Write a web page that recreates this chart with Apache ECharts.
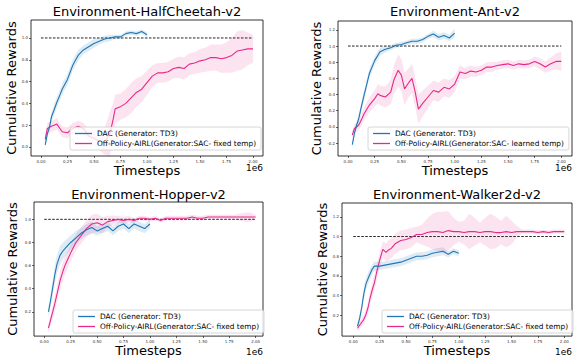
<!DOCTYPE html>
<html>
<head>
<meta charset="utf-8">
<script src="https://cdn.jsdelivr.net/npm/echarts@6/dist/echarts.min.js"></script>
<style>
  html, body { margin: 0; padding: 0; background: #fff; }
  #chart { width: 575px; height: 358px; }
</style>
</head>
<body>
<div id="chart"></div>
<script>
var FONT = 'DejaVu Sans';
var BLUE = '#1f77b4';
var PINK = '#e7298a';

var DAC_NAME = 'DAC (Generator: TD3)';
var AIRL_FIXED = 'Off-Policy-AIRL(Generator:SAC- fixed temp)';
var AIRL_LEARNED = 'Off-Policy-AIRL(Generator:SAC- learned temp)';

var titles = ['Environment-HalfCheetah-v2', 'Environment-Ant-v2', 'Environment-Hopper-v2', 'Environment-Walker2d-v2'];

// tick values (x in units of 1e6 timesteps)
var xTicks = [0, 0.25, 0.5, 0.75, 1.0, 1.25, 1.5, 1.75, 2.0];
var yTicksCheetah = [0, 0.2, 0.4, 0.6, 0.8, 1.0];
var yTicksAnt = [-0.2, 0, 0.2, 0.4, 0.6, 0.8, 1.0, 1.2];
var yTicksHopper = [0.2, 0.4, 0.6, 0.8, 1.0];
var yTicksWalker = [0.2, 0.4, 0.6, 0.8, 1.0, 1.2];

// DAC runs stop at 1e6 steps
var dacSteps = [0.04, 0.06, 0.08, 0.10, 0.12, 0.15, 0.18, 0.20, 0.25, 0.30, 0.35, 0.40,
                0.45, 0.50, 0.55, 0.60, 0.65, 0.70, 0.75, 0.80, 0.85, 0.90, 0.95, 1.00];

// ---- HalfCheetah ----
var cheetahDac = [0.02, 0.12, 0.18, 0.28, 0.33, 0.41, 0.48, 0.53, 0.62, 0.75, 0.84, 0.89,
                  0.92, 0.95, 0.97, 0.99, 1.00, 1.01, 1.01, 1.04, 1.05, 1.04, 1.06, 1.03];
var cheetahDacSd = [0.03, 0.03, 0.04, 0.04, 0.05, 0.05, 0.05, 0.05, 0.05, 0.05, 0.05, 0.04,
                    0.04, 0.04, 0.03, 0.03, 0.03, 0.02, 0.02, 0.02, 0.02, 0.02, 0.02, 0.02];
var cheetahAirlSteps = [0.04, 0.06, 0.10, 0.15, 0.20, 0.25, 0.30, 0.35, 0.40, 0.45, 0.50, 0.55, 0.60, 0.65, 0.68, 0.70,
                        0.75, 0.80, 0.85, 0.90, 0.95, 1.00, 1.05, 1.10, 1.15, 1.20, 1.25, 1.30, 1.35,
                        1.40, 1.45, 1.50, 1.55, 1.60, 1.65, 1.70, 1.75, 1.80, 1.85, 1.90, 1.95, 2.00];
var cheetahAirl = [0.07, 0.17, 0.19, 0.21, 0.14, 0.13, 0.17, 0.19, 0.17, 0.10, 0.08, 0.05, 0.05, 0.12, 0.25, 0.35,
                   0.37, 0.40, 0.45, 0.50, 0.53, 0.59, 0.65, 0.68, 0.68, 0.69, 0.72, 0.73, 0.72,
                   0.76, 0.77, 0.79, 0.80, 0.82, 0.82, 0.81, 0.82, 0.84, 0.88, 0.89, 0.90, 0.90];
var cheetahAirlSd = [0.04, 0.05, 0.05, 0.05, 0.05, 0.05, 0.05, 0.05, 0.05, 0.06, 0.07, 0.08, 0.12, 0.20, 0.15, 0.13,
                     0.12, 0.13, 0.14, 0.13, 0.12, 0.11, 0.10, 0.09, 0.09, 0.09, 0.09, 0.10, 0.10,
                     0.10, 0.10, 0.11, 0.11, 0.12, 0.12, 0.13, 0.14, 0.16, 0.18, 0.18, 0.15, 0.13];

// ---- Ant ----
var antDac = [-0.22, -0.08, 0.02, 0.10, 0.22, 0.39, 0.55, 0.66, 0.82, 0.93, 0.96, 0.98,
              1.01, 1.02, 1.04, 1.06, 1.06, 1.08, 1.12, 1.15, 1.11, 1.13, 1.10, 1.16];
var antDacSd = [0.04, 0.05, 0.05, 0.06, 0.06, 0.06, 0.06, 0.06, 0.05, 0.05, 0.04, 0.03,
                0.03, 0.03, 0.03, 0.03, 0.03, 0.03, 0.03, 0.04, 0.04, 0.04, 0.04, 0.05];
var antAirlSteps = [0.04, 0.06, 0.10, 0.13, 0.15, 0.20, 0.25, 0.28, 0.30, 0.35, 0.40, 0.43, 0.47, 0.50, 0.53, 0.57, 0.60, 0.63, 0.66, 0.70,
                    0.75, 0.80, 0.85, 0.90, 0.95, 1.00, 1.05, 1.10, 1.15, 1.20, 1.25, 1.30, 1.35,
                    1.40, 1.45, 1.50, 1.55, 1.60, 1.65, 1.70, 1.75, 1.80, 1.85, 1.90, 1.95, 2.00];
var antAirl = [-0.10, -0.02, 0.02, 0.10, 0.16, 0.27, 0.35, 0.41, 0.39, 0.37, 0.43, 0.58, 0.70, 0.64, 0.47, 0.55, 0.60, 0.43, 0.22, 0.29,
               0.37, 0.45, 0.43, 0.49, 0.47, 0.53, 0.68, 0.66, 0.69, 0.68, 0.70, 0.74, 0.74,
               0.76, 0.77, 0.78, 0.76, 0.78, 0.77, 0.78, 0.81, 0.78, 0.74, 0.78, 0.81, 0.81];
var antAirlSd = [0.04, 0.05, 0.06, 0.07, 0.08, 0.09, 0.10, 0.12, 0.12, 0.13, 0.15, 0.18, 0.20, 0.20, 0.20, 0.18, 0.18, 0.18, 0.18, 0.16,
                 0.14, 0.12, 0.12, 0.11, 0.11, 0.10, 0.08, 0.07, 0.07, 0.06, 0.06, 0.06, 0.06,
                 0.05, 0.05, 0.05, 0.05, 0.05, 0.05, 0.05, 0.06, 0.07, 0.07, 0.08, 0.10, 0.12];

// ---- Hopper ----
var hopperDac = [0.20, 0.30, 0.41, 0.52, 0.61, 0.69, 0.73, 0.75, 0.80, 0.84, 0.88, 0.91,
                 0.93, 0.90, 0.92, 0.94, 0.90, 0.94, 0.96, 0.92, 0.96, 0.94, 0.92, 0.96];
var hopperDacSd = [0.05, 0.06, 0.07, 0.08, 0.08, 0.08, 0.07, 0.07, 0.06, 0.06, 0.05, 0.05,
                   0.05, 0.04, 0.04, 0.04, 0.04, 0.04, 0.04, 0.04, 0.04, 0.04, 0.04, 0.04];
var hopperAirlSteps = [0.04, 0.06, 0.08, 0.10, 0.12, 0.15, 0.18, 0.20, 0.25, 0.30, 0.35, 0.40,
                       0.45, 0.50, 0.55, 0.60, 0.65, 0.70, 0.75, 0.80, 0.85, 0.90, 0.95, 1.00,
                       1.05, 1.10, 1.15, 1.20, 1.25, 1.30, 1.35, 1.40, 1.45, 1.50,
                       1.55, 1.60, 1.65, 1.70, 1.75, 1.80, 1.85, 1.90, 1.95, 2.00];
var hopperAirl = [0.06, 0.13, 0.20, 0.27, 0.35, 0.47, 0.56, 0.61, 0.71, 0.80, 0.86, 0.92,
                  0.96, 0.97, 0.95, 0.98, 0.99, 1.00, 0.99, 1.00, 0.99, 1.01, 1.01, 1.00,
                  1.01, 0.99, 1.01, 1.01, 1.01, 1.01, 1.01, 1.02, 1.01, 1.01,
                  1.02, 1.02, 1.02, 1.02, 1.02, 1.02, 1.02, 1.02, 1.02, 1.02];
var hopperAirlSd = [0.04, 0.05, 0.06, 0.07, 0.07, 0.08, 0.08, 0.08, 0.07, 0.07, 0.07, 0.07,
                    0.08, 0.08, 0.07, 0.05, 0.04, 0.03, 0.03, 0.03, 0.02, 0.02, 0.02, 0.02,
                    0.02, 0.02, 0.02, 0.02, 0.02, 0.02, 0.02, 0.02, 0.02, 0.02,
                    0.02, 0.02, 0.02, 0.02, 0.02, 0.02, 0.03, 0.04, 0.04, 0.02];

// ---- Walker2d ----
var walkerDac = [0.09, 0.17, 0.28, 0.42, 0.52, 0.60, 0.67, 0.70, 0.70, 0.71, 0.72, 0.73,
                 0.74, 0.76, 0.78, 0.80, 0.80, 0.81, 0.83, 0.84, 0.85, 0.82, 0.85, 0.83];
var walkerDacSd = [0.03, 0.04, 0.05, 0.06, 0.06, 0.06, 0.05, 0.05, 0.04, 0.04, 0.04, 0.04,
                   0.04, 0.04, 0.04, 0.04, 0.04, 0.04, 0.04, 0.04, 0.04, 0.03, 0.03, 0.03];
var walkerAirlSteps = [0.04, 0.06, 0.08, 0.10, 0.12, 0.14, 0.16, 0.18, 0.20, 0.22, 0.25, 0.28, 0.31, 0.33, 0.36, 0.40,
                       0.45, 0.50, 0.55, 0.60, 0.65, 0.70, 0.75, 0.80, 0.85, 0.90, 0.95, 1.00,
                       1.05, 1.10, 1.15, 1.20, 1.25, 1.30, 1.35, 1.40, 1.45, 1.50,
                       1.55, 1.60, 1.65, 1.70, 1.75, 1.80, 1.85, 1.90, 1.95, 2.00];
var walkerAirl = [0.07, 0.10, 0.13, 0.16, 0.21, 0.28, 0.38, 0.46, 0.53, 0.63, 0.76, 0.87, 0.84, 0.86, 0.88, 0.93,
                  0.96, 0.97, 0.99, 1.02, 1.02, 1.04, 1.05, 1.05, 1.04, 1.06, 1.05, 1.05,
                  1.04, 1.05, 1.05, 1.04, 1.05, 1.05, 1.04, 1.04, 1.05, 1.04,
                  1.05, 1.05, 1.05, 1.05, 1.04, 1.05, 1.04, 1.05, 1.05, 1.05];
var walkerAirlSd = [0.03, 0.04, 0.04, 0.05, 0.05, 0.06, 0.07, 0.07, 0.08, 0.08, 0.08, 0.08, 0.09, 0.10, 0.10, 0.10,
                    0.10, 0.10, 0.10, 0.08, 0.10, 0.14, 0.18, 0.20, 0.21, 0.20, 0.14, 0.10,
                    0.12, 0.18, 0.14, 0.10, 0.14, 0.18, 0.16, 0.12, 0.16, 0.12,
                    0.06, 0.02, 0.02, 0.02, 0.02, 0.02, 0.02, 0.02, 0.02, 0.02];

// layout of the four panels (pixels)
var panels = [
  { title: titles[0], box: [31, 20, 232, 136], xRange: [-0.094, 2.094], yRange: [-0.083, 1.165], yTicks: yTicksCheetah,
    dac: [dacSteps, cheetahDac, cheetahDacSd], airl: [cheetahAirlSteps, cheetahAirl, cheetahAirlSd], airlName: AIRL_FIXED,
    legend: [70, 127], yGap: 12, xGap: 7, titleTop: 5 },
  { title: titles[1], box: [338, 21, 234, 135], xRange: [-0.094, 2.10], yRange: [-0.36, 1.31], yTicks: yTicksAnt,
    dac: [dacSteps, antDac, antDacSd], airl: [antAirlSteps, antAirl, antAirlSd], airlName: AIRL_LEARNED,
    legend: [368, 127], yGap: 14, xGap: 7, titleTop: 5 },
  { title: titles[2], box: [34, 202, 229, 138], xRange: [-0.097, 2.07], yRange: [-0.01, 1.15], yTicks: yTicksHopper,
    dac: [dacSteps, hopperDac, hopperDacSd], airl: [hopperAirlSteps, hopperAirl, hopperAirlSd], airlName: AIRL_FIXED,
    legend: [73, 310], yGap: 15, xGap: 5, titleTop: 188 },
  { title: titles[3], box: [342, 203, 230, 137], xRange: [-0.107, 2.073], yRange: [-0.01, 1.34], yTicks: yTicksWalker,
    dac: [dacSteps, walkerDac, walkerDacSd], airl: [walkerAirlSteps, walkerAirl, walkerAirlSd], airlName: AIRL_FIXED,
    legend: [382, 310], yGap: 11, xGap: 5, titleTop: 188 }
];

function pairs(xs, ys) {
  return xs.map(function (x, k) { return [x, ys[k]]; });
}

// shaded spread drawn as one polygon, points placed with api.coord
function bandSeries(i, xs, ys, sd, color, key) {
  return {
    name: 'band' + i + key, type: 'custom', xAxisIndex: i, yAxisIndex: i, silent: true, z: 1,
    clip: true,
    data: pairs(xs, ys),
    renderItem: function (params, api) {
      if (params.dataIndex !== 0) return null;
      var pts = [];
      for (var k = 0; k < xs.length; k++) pts.push(api.coord([xs[k], ys[k] + sd[k]]));
      for (var m = xs.length - 1; m >= 0; m--) pts.push(api.coord([xs[m], ys[m] - sd[m]]));
      return { type: 'polygon', shape: { points: pts }, style: { fill: color, stroke: null } };
    }
  };
}

var option = {
  animation: false,
  textStyle: { fontFamily: FONT },
  title: [], grid: [], xAxis: [], yAxis: [], legend: [], series: []
};

panels.forEach(function (p, i) {
  var b = p.box;
  option.grid.push({ left: b[0], top: b[1], width: b[2], height: b[3], show: true,
                     borderColor: '#000', borderWidth: 0.8, backgroundColor: 'transparent' });
  option.title.push({ text: p.title, left: b[0] + b[2] / 2, top: p.titleTop, textAlign: 'center', padding: 0,
                      textStyle: { fontFamily: FONT, fontSize: 13, fontWeight: 'normal', color: '#000' } });
  option.title.push({ text: '1e6', left: b[0] + b[2], top: b[1] + b[3] + 7, textAlign: 'right', padding: 0,
                      textStyle: { fontFamily: FONT, fontSize: 9, fontWeight: 'normal', color: '#000' } });
  option.xAxis.push({
    type: 'value', gridIndex: i, min: p.xRange[0], max: p.xRange[1],
    name: 'Timesteps', nameLocation: 'middle', nameGap: p.xGap,
    nameTextStyle: { fontFamily: FONT, fontSize: 13, color: '#000' },
    axisLine: { show: false, onZero: false },
    axisTick: { show: true, length: 2, customValues: xTicks, lineStyle: { color: '#000', width: 0.6 } },
    axisLabel: { customValues: xTicks, fontSize: 4, color: '#333', margin: 3,
                 formatter: function (v) { return v.toFixed(2); } },
    splitLine: { show: false }
  });
  option.yAxis.push({
    type: 'value', gridIndex: i, min: p.yRange[0], max: p.yRange[1],
    name: 'Cumulative Rewards', nameLocation: 'middle', nameGap: p.yGap,
    nameTextStyle: { fontFamily: FONT, fontSize: 13, color: '#000' },
    axisLine: { show: false, onZero: false },
    axisTick: { show: true, length: 2, customValues: p.yTicks, lineStyle: { color: '#000', width: 0.6 } },
    axisLabel: { customValues: p.yTicks, fontSize: 4, color: '#333', margin: 3,
                 formatter: function (v) { return v.toFixed(1); } },
    splitLine: { show: false }
  });
  option.legend.push({
    left: p.legend[0], top: p.legend[1], orient: 'vertical',
    data: [DAC_NAME, p.airlName], icon: 'rect', itemWidth: 17, itemHeight: 1.3, itemGap: 3,
    padding: [3, 5, 3, 5], backgroundColor: 'rgba(255,255,255,0.8)', borderColor: '#cccccc',
    borderWidth: 0.8, borderRadius: 2, selectedMode: false,
    textStyle: { fontFamily: FONT, fontSize: 7.4, color: '#000' }
  });

  option.series.push(bandSeries(i, p.airl[0], p.airl[1], p.airl[2], 'rgba(231,41,138,0.13)', 'a'));
  option.series.push(bandSeries(i, p.dac[0], p.dac[1], p.dac[2], 'rgba(31,119,180,0.15)', 'd'));
  option.series.push({
    name: 'expert' + i, type: 'line', xAxisIndex: i, yAxisIndex: i, symbol: 'none', silent: true, z: 2,
    data: [[0, 1], [2, 1]], lineStyle: { color: '#222', width: 1, type: [2.5, 1.5] }
  });
  option.series.push({
    name: p.airlName, type: 'line', xAxisIndex: i, yAxisIndex: i, symbol: 'none', z: 3,
    data: pairs(p.airl[0], p.airl[1]), itemStyle: { color: PINK }, lineStyle: { color: PINK, width: 1.1 }
  });
  option.series.push({
    name: DAC_NAME, type: 'line', xAxisIndex: i, yAxisIndex: i, symbol: 'none', z: 4,
    data: pairs(p.dac[0], p.dac[1]), itemStyle: { color: BLUE }, lineStyle: { color: BLUE, width: 1.1 }
  });
});

var chart = echarts.init(document.getElementById('chart'), null, { renderer: 'svg' });
chart.setOption(option);
</script>
</body>
</html>
